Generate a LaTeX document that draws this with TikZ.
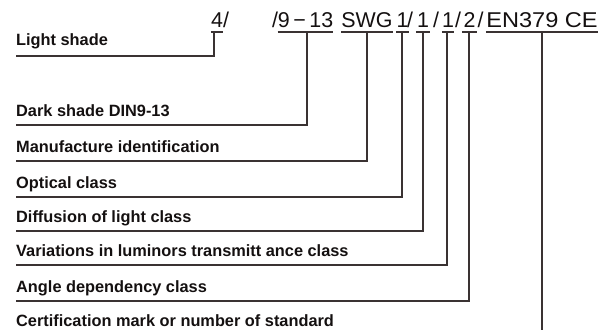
\documentclass[tikz,border=0pt]{standalone}
\usepackage{fontspec}
\setmainfont{Liberation Sans}
\definecolor{linec}{HTML}{3A3232}
\definecolor{txt}{HTML}{141010}
\begin{document}
\begin{tikzpicture}[x=1bp,y=-1bp,
  top/.style={anchor=base,inner sep=0pt,text=txt,font=\fontsize{21.5}{21.5}\selectfont},
  lab/.style={anchor=base west,inner sep=0pt,text=txt,font=\bfseries\fontsize{16.4}{16.4}\selectfont},
  ul/.style={draw=linec,line width=1.7bp},
  conn/.style={draw=linec,line width=1.3bp}]
\useasboundingbox (0,0) rectangle (604,330);
% top code
\node[top,minimum width=10bp] (n4) at (217,27.7) {4};
\node[top] (s0) at (226,27.7) {/};
\node[top] (s1) at (275,27.7) {/};
\node[top,minimum width=55bp] (n913) at (305.5,27.7) {9\,\textminus\,13};
\node[top,minimum width=50bp] (nswg) at (367,27.7) {SWG};
\node[top,minimum width=9bp] (n1a) at (402.5,27.7) {1};
\node[top] (s2) at (410,27.7) {/};
\node[top,minimum width=14bp] (n1b) at (423,27.7) {1};
\node[top] (s3) at (436,27.7) {/};
\node[top,minimum width=12bp] (n1c) at (448,27.7) {1};
\node[top] (s4) at (458,27.7) {/};
\node[top,minimum width=15bp] (n2) at (469.5,27.7) {2};
\node[top] (s5) at (480.5,27.7) {/};
\node[top,minimum width=112bp] (nen) at (542,27.7) {\scalebox{1.1}[1]{EN379 CE}};
% top underlines
\foreach \n in {n4,n913,nswg,n1a,n1b,n1c,n2,nen}
  \draw[ul] ([yshift=-4.3bp]\n.base west) -- ([yshift=-4.3bp]\n.base east);
% labels
\node[lab] (lLight) at (16,45) {Light shade};
\node[lab] (lDark) at (16,116.5) {Dark shade DIN9-13};
\node[lab] (lMan) at (16,152.3) {Manufacture identification};
\node[lab] (lOpt) at (16,188.3) {Optical class};
\node[lab] (lDif) at (16,222.5) {Diffusion of light class};
\node[lab] (lVar) at (16,256.5) {Variations in luminors transmitt ance class};
\node[lab] (lAng) at (16,292) {Angle dependency class};
\node[lab] (lCert) at (16,326) {Certification mark or number of standard};
\coordinate (bot) at (542,330);
% connectors
\draw[conn] ([xshift=-3bp,yshift=-4.3bp]n4.base) |- ([yshift=-11bp]lLight.base west);
\draw[conn] ([xshift=1.5bp,yshift=-4.3bp]n913.base) |- ([yshift=-8.5bp]lDark.base west);
\draw[conn] ([yshift=-4.3bp]nswg.base) |- ([yshift=-8.7bp]lMan.base west);
\draw[conn] ([xshift=-0.5bp,yshift=-4.3bp]n1a.base) |- ([yshift=-8.7bp]lOpt.base west);
\draw[conn] ([yshift=-4.3bp]n1b.base) |- ([yshift=-8.5bp]lDif.base west);
\draw[conn] ([xshift=-1bp,yshift=-4.3bp]n1c.base) |- ([yshift=-8.5bp]lVar.base west);
\draw[conn] ([xshift=-0.5bp,yshift=-4.3bp]n2.base) |- ([yshift=-9bp]lAng.base west);
\draw[conn] ([yshift=-4.3bp]nen.base) -- (bot);
\end{tikzpicture}
\end{document}
